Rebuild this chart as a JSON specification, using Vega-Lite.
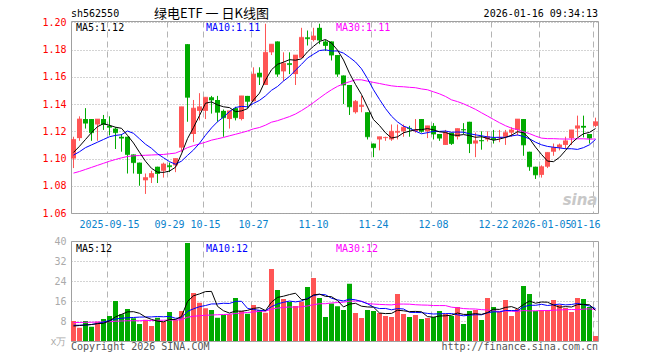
{
  "$schema": "https://vega.github.io/schema/vega-lite/v6.json",
  "background": "white",
  "padding": {"left": 41, "top": 7, "right": 10, "bottom": 4},
  "bounds": "flush",
  "spacing": 28,
  "config": {
    "view": {"stroke": "#a0a0a0", "strokeWidth": 1},
    "font": "DejaVu Sans Mono",
    "axis": {"labelFont": "DejaVu Sans Mono", "labelFontSize": 10, "ticks": false, "domain": false, "title": null},
    "text": {"font": "DejaVu Sans Mono", "fontSize": 10}
  },
  "data": {"values": [
    {"d":"2025-09-05","o":1.100,"h":1.116,"l":1.093,"c":1.114,"v":8.0,"m5":1.1045,"m10":1.1025,"m30":1.0893,"vm5":6.0,"vm10":6.3,"vm30":7.4},
    {"d":"2025-09-08","o":1.115,"h":1.131,"l":1.113,"c":1.129,"v":5.3,"m5":1.109,"m10":1.105,"m30":1.0905,"vm5":6.2,"vm10":6.3,"vm30":7.4},
    {"d":"2025-09-09","o":1.129,"h":1.137,"l":1.122,"c":1.126,"v":8.0,"m5":1.114,"m10":1.108,"m30":1.092,"vm5":6.4,"vm10":6.4,"vm30":7.5},
    {"d":"2025-09-10","o":1.129,"h":1.129,"l":1.113,"c":1.119,"v":5.7,"m5":1.119,"m10":1.110,"m30":1.0935,"vm5":6.6,"vm10":6.6,"vm30":7.5},
    {"d":"2025-09-11","o":1.125,"h":1.129,"l":1.113,"c":1.129,"v":7.7,"m5":1.1234,"m10":1.112,"m30":1.095,"vm5":6.94,"vm10":7.0,"vm30":7.6},
    {"d":"2025-09-12","o":1.129,"h":1.132,"l":1.121,"c":1.125,"v":8.8,"m5":1.1256,"m10":1.114,"m30":1.0965,"vm5":7.1,"vm10":7.6,"vm30":7.6},
    {"d":"2025-09-15","o":1.124,"h":1.131,"l":1.117,"c":1.123,"v":10.0,"m5":1.1244,"m10":1.116,"m30":1.098,"vm5":8.04,"vm10":8.2,"vm30":7.7},
    {"d":"2025-09-16","o":1.122,"h":1.123,"l":1.107,"c":1.119,"v":16.0,"m5":1.123,"m10":1.117,"m30":1.0993,"vm5":9.64,"vm10":8.8,"vm30":7.9},
    {"d":"2025-09-17","o":1.116,"h":1.118,"l":1.105,"c":1.115,"v":10.7,"m5":1.1222,"m10":1.1175,"m30":1.1005,"vm5":10.64,"vm10":9.1,"vm30":8.0},
    {"d":"2025-09-18","o":1.116,"h":1.116,"l":1.089,"c":1.103,"v":12.8,"m5":1.117,"m10":1.1202,"m30":1.1015,"vm5":11.66,"vm10":9.3,"vm30":8.1},
    {"d":"2025-09-19","o":1.103,"h":1.103,"l":1.089,"c":1.097,"v":9.1,"m5":1.1114,"m10":1.1185,"m30":1.102,"vm5":11.72,"vm10":9.41,"vm30":8.1},
    {"d":"2025-09-22","o":1.097,"h":1.097,"l":1.080,"c":1.089,"v":6.8,"m5":1.1046,"m10":1.1145,"m30":1.1022,"vm5":11.08,"vm10":9.56,"vm30":8.1},
    {"d":"2025-09-23","o":1.084,"h":1.089,"l":1.074,"c":1.086,"v":8.5,"m5":1.098,"m10":1.1105,"m30":1.1024,"vm5":9.58,"vm10":9.61,"vm30":8.2},
    {"d":"2025-09-24","o":1.086,"h":1.091,"l":1.082,"c":1.089,"v":6.0,"m5":1.0928,"m10":1.1075,"m30":1.1026,"vm5":8.64,"vm10":9.64,"vm30":8.2},
    {"d":"2025-09-25","o":1.094,"h":1.094,"l":1.082,"c":1.089,"v":9.3,"m5":1.09,"m10":1.1035,"m30":1.1028,"vm5":7.94,"vm10":9.8,"vm30":8.3},
    {"d":"2025-09-26","o":1.091,"h":1.097,"l":1.086,"c":1.096,"v":7.7,"m5":1.0898,"m10":1.1006,"m30":1.103,"vm5":7.66,"vm10":9.69,"vm30":8.3},
    {"d":"2025-09-29","o":1.095,"h":1.097,"l":1.090,"c":1.094,"v":11.6,"m5":1.0908,"m10":1.0977,"m30":1.1035,"vm5":8.62,"vm10":9.85,"vm30":8.4},
    {"d":"2025-09-30","o":1.095,"h":1.100,"l":1.090,"c":1.100,"v":8.5,"m5":1.0936,"m10":1.0958,"m30":1.104,"vm5":8.62,"vm10":9.1,"vm30":8.4},
    {"d":"2025-10-09","o":1.108,"h":1.138,"l":1.105,"c":1.138,"v":12.0,"m5":1.1034,"m10":1.0981,"m30":1.1058,"vm5":9.82,"vm10":9.23,"vm30":8.5},
    {"d":"2025-10-10","o":1.184,"h":1.184,"l":1.127,"c":1.145,"v":39.2,"m5":1.1146,"m10":1.1023,"m30":1.108,"vm5":15.8,"vm10":11.87,"vm30":9.5},
    {"d":"2025-10-13","o":1.118,"h":1.143,"l":1.112,"c":1.137,"v":19.2,"m5":1.1228,"m10":1.1063,"m30":1.1095,"vm5":18.1,"vm10":12.88,"vm30":9.9},
    {"d":"2025-10-14","o":1.135,"h":1.148,"l":1.128,"c":1.138,"v":15.3,"m5":1.1316,"m10":1.1112,"m30":1.1107,"vm5":18.84,"vm10":13.73,"vm30":10.1},
    {"d":"2025-10-15","o":1.135,"h":1.145,"l":1.129,"c":1.145,"v":13.1,"m5":1.1406,"m10":1.1171,"m30":1.112,"vm5":19.76,"vm10":14.19,"vm30":10.3},
    {"d":"2025-10-16","o":1.145,"h":1.146,"l":1.133,"c":1.143,"v":12.4,"m5":1.1416,"m10":1.1225,"m30":1.1135,"vm5":19.84,"vm10":14.83,"vm30":10.4},
    {"d":"2025-10-17","o":1.143,"h":1.146,"l":1.127,"c":1.134,"v":9.3,"m5":1.1394,"m10":1.127,"m30":1.1145,"vm5":13.86,"vm10":14.83,"vm30":10.5},
    {"d":"2025-10-20","o":1.135,"h":1.136,"l":1.116,"c":1.130,"v":10.4,"m5":1.138,"m10":1.1304,"m30":1.1155,"vm5":12.1,"vm10":15.1,"vm30":10.6},
    {"d":"2025-10-21","o":1.129,"h":1.135,"l":1.122,"c":1.135,"v":10.7,"m5":1.1374,"m10":1.1345,"m30":1.1167,"vm5":11.18,"vm10":15.01,"vm30":10.7},
    {"d":"2025-10-22","o":1.137,"h":1.138,"l":1.128,"c":1.130,"v":17.2,"m5":1.1344,"m10":1.1375,"m30":1.1178,"vm5":12.0,"vm10":15.88,"vm30":11.0},
    {"d":"2025-10-23","o":1.129,"h":1.146,"l":1.128,"c":1.146,"v":12.0,"m5":1.135,"m10":1.1383,"m30":1.119,"vm5":11.92,"vm10":15.88,"vm30":11.2},
    {"d":"2025-10-24","o":1.146,"h":1.146,"l":1.137,"c":1.142,"v":10.9,"m5":1.1366,"m10":1.138,"m30":1.1202,"vm5":12.24,"vm10":13.05,"vm30":11.41},
    {"d":"2025-10-27","o":1.142,"h":1.167,"l":1.142,"c":1.162,"v":14.4,"m5":1.143,"m10":1.1405,"m30":1.1218,"vm5":13.04,"vm10":12.57,"vm30":11.62},
    {"d":"2025-10-28","o":1.163,"h":1.167,"l":1.154,"c":1.160,"v":12.3,"m5":1.148,"m10":1.1427,"m30":1.1228,"vm5":13.36,"vm10":12.27,"vm30":11.85},
    {"d":"2025-10-29","o":1.154,"h":1.199,"l":1.154,"c":1.178,"v":11.3,"m5":1.1576,"m10":1.146,"m30":1.1245,"vm5":12.18,"vm10":12.09,"vm30":11.96},
    {"d":"2025-10-30","o":1.178,"h":1.184,"l":1.176,"c":1.184,"v":28.8,"m5":1.1652,"m10":1.1501,"m30":1.1267,"vm5":15.54,"vm10":13.73,"vm30":12.73},
    {"d":"2025-10-31","o":1.186,"h":1.186,"l":1.160,"c":1.162,"v":20.4,"m5":1.1692,"m10":1.1529,"m30":1.1278,"vm5":17.44,"vm10":14.84,"vm30":13.16},
    {"d":"2025-11-03","o":1.164,"h":1.178,"l":1.157,"c":1.170,"v":16.8,"m5":1.1708,"m10":1.1569,"m30":1.1293,"vm5":17.92,"vm10":15.48,"vm30":13.42},
    {"d":"2025-11-04","o":1.170,"h":1.178,"l":1.162,"c":1.169,"v":15.6,"m5":1.1726,"m10":1.1603,"m30":1.1308,"vm5":18.58,"vm10":15.97,"vm30":13.61},
    {"d":"2025-11-05","o":1.162,"h":1.176,"l":1.154,"c":1.176,"v":14.0,"m5":1.1722,"m10":1.1649,"m30":1.1327,"vm5":19.12,"vm10":15.65,"vm30":13.54},
    {"d":"2025-11-06","o":1.174,"h":1.196,"l":1.174,"c":1.189,"v":15.7,"m5":1.1732,"m10":1.1692,"m30":1.1352,"vm5":16.5,"vm10":16.02,"vm30":13.71},
    {"d":"2025-11-07","o":1.189,"h":1.194,"l":1.183,"c":1.188,"v":21.6,"m5":1.1784,"m10":1.1738,"m30":1.138,"vm5":16.74,"vm10":17.09,"vm30":14.0},
    {"d":"2025-11-10","o":1.187,"h":1.196,"l":1.186,"c":1.190,"v":25.2,"m5":1.1824,"m10":1.1766,"m30":1.1411,"vm5":18.42,"vm10":18.17,"vm30":14.54},
    {"d":"2025-11-11","o":1.196,"h":1.199,"l":1.184,"c":1.187,"v":17.2,"m5":1.186,"m10":1.1793,"m30":1.1444,"vm5":18.74,"vm10":18.66,"vm30":14.89},
    {"d":"2025-11-12","o":1.186,"h":1.187,"l":1.179,"c":1.183,"v":9.6,"m5":1.1874,"m10":1.1798,"m30":1.1476,"vm5":17.86,"vm10":18.49,"vm30":14.92},
    {"d":"2025-11-13","o":1.186,"h":1.186,"l":1.172,"c":1.176,"v":15.0,"m5":1.1848,"m10":1.179,"m30":1.1505,"vm5":17.72,"vm10":17.11,"vm30":15.22},
    {"d":"2025-11-14","o":1.176,"h":1.176,"l":1.160,"c":1.162,"v":13.9,"m5":1.1796,"m10":1.179,"m30":1.153,"vm5":16.18,"vm10":16.46,"vm30":15.38},
    {"d":"2025-11-17","o":1.161,"h":1.161,"l":1.140,"c":1.154,"v":12.4,"m5":1.1724,"m10":1.1774,"m30":1.1549,"vm5":13.62,"vm10":16.02,"vm30":15.53},
    {"d":"2025-11-18","o":1.154,"h":1.154,"l":1.132,"c":1.138,"v":22.9,"m5":1.1626,"m10":1.1743,"m30":1.1564,"vm5":14.76,"vm10":16.75,"vm30":15.91},
    {"d":"2025-11-19","o":1.134,"h":1.143,"l":1.133,"c":1.142,"v":11.2,"m5":1.1544,"m10":1.1709,"m30":1.1578,"vm5":15.08,"vm10":16.47,"vm30":16.0},
    {"d":"2025-11-20","o":1.138,"h":1.146,"l":1.134,"c":1.139,"v":9.2,"m5":1.147,"m10":1.1659,"m30":1.1578,"vm5":13.92,"vm10":15.82,"vm30":15.91},
    {"d":"2025-11-21","o":1.134,"h":1.134,"l":1.114,"c":1.116,"v":12.4,"m5":1.1378,"m10":1.1587,"m30":1.1568,"vm5":13.62,"vm10":14.9,"vm30":15.01},
    {"d":"2025-11-24","o":1.111,"h":1.111,"l":1.101,"c":1.108,"v":12.0,"m5":1.1286,"m10":1.1505,"m30":1.1559,"vm5":13.54,"vm10":13.58,"vm30":14.77},
    {"d":"2025-11-25","o":1.114,"h":1.116,"l":1.106,"c":1.116,"v":11.2,"m5":1.1242,"m10":1.1434,"m30":1.1551,"vm5":11.2,"vm10":12.98,"vm30":14.64},
    {"d":"2025-11-26","o":1.115,"h":1.116,"l":1.113,"c":1.1155,"v":10.0,"m5":1.1189,"m10":1.1367,"m30":1.1542,"vm5":10.96,"vm10":13.02,"vm30":14.53},
    {"d":"2025-11-27","o":1.114,"h":1.125,"l":1.113,"c":1.120,"v":9.6,"m5":1.1151,"m10":1.1311,"m30":1.1534,"vm5":11.04,"vm10":12.48,"vm30":14.44},
    {"d":"2025-11-28","o":1.119,"h":1.125,"l":1.114,"c":1.120,"v":18.8,"m5":1.1159,"m10":1.1269,"m30":1.1529,"vm5":12.32,"vm10":12.97,"vm30":14.76},
    {"d":"2025-12-01","o":1.120,"h":1.125,"l":1.116,"c":1.123,"v":10.8,"m5":1.1189,"m10":1.1238,"m30":1.1527,"vm5":12.08,"vm10":12.81,"vm30":14.77},
    {"d":"2025-12-02","o":1.1225,"h":1.124,"l":1.116,"c":1.122,"v":9.6,"m5":1.1201,"m10":1.1222,"m30":1.1523,"vm5":11.76,"vm10":11.48,"vm30":14.73},
    {"d":"2025-12-03","o":1.120,"h":1.129,"l":1.119,"c":1.121,"v":10.4,"m5":1.1212,"m10":1.1201,"m30":1.152,"vm5":11.84,"vm10":11.4,"vm30":14.51},
    {"d":"2025-12-04","o":1.129,"h":1.129,"l":1.119,"c":1.120,"v":8.8,"m5":1.1212,"m10":1.1182,"m30":1.1511,"vm5":11.68,"vm10":11.36,"vm30":14.4},
    {"d":"2025-12-05","o":1.120,"h":1.124,"l":1.115,"c":1.124,"v":9.2,"m5":1.122,"m10":1.119,"m30":1.1505,"vm5":9.76,"vm10":11.04,"vm30":14.34},
    {"d":"2025-12-08","o":1.124,"h":1.126,"l":1.114,"c":1.118,"v":9.6,"m5":1.121,"m10":1.12,"m30":1.149,"vm5":9.52,"vm10":10.8,"vm30":14.18},
    {"d":"2025-12-09","o":1.118,"h":1.118,"l":1.113,"c":1.115,"v":12.0,"m5":1.1196,"m10":1.1199,"m30":1.1475,"vm5":10.0,"vm10":10.88,"vm30":14.17},
    {"d":"2025-12-10","o":1.110,"h":1.121,"l":1.110,"c":1.119,"v":10.8,"m5":1.1192,"m10":1.1202,"m30":1.1456,"vm5":10.08,"vm10":10.96,"vm30":14.16},
    {"d":"2025-12-11","o":1.119,"h":1.119,"l":1.110,"c":1.111,"v":10.0,"m5":1.1174,"m10":1.1193,"m30":1.1431,"vm5":10.32,"vm10":11.0,"vm30":13.53},
    {"d":"2025-12-12","o":1.116,"h":1.122,"l":1.114,"c":1.122,"v":13.6,"m5":1.117,"m10":1.1195,"m30":1.1418,"vm5":11.2,"vm10":10.48,"vm30":13.3},
    {"d":"2025-12-15","o":1.1215,"h":1.126,"l":1.118,"c":1.121,"v":6.8,"m5":1.1176,"m10":1.1193,"m30":1.1402,"vm5":10.64,"vm10":10.08,"vm30":12.97},
    {"d":"2025-12-16","o":1.127,"h":1.127,"l":1.104,"c":1.111,"v":12.0,"m5":1.1168,"m10":1.1182,"m30":1.1382,"vm5":10.64,"vm10":10.32,"vm30":12.85},
    {"d":"2025-12-17","o":1.111,"h":1.119,"l":1.101,"c":1.113,"v":12.4,"m5":1.1156,"m10":1.1174,"m30":1.1361,"vm5":10.96,"vm10":10.52,"vm30":12.8},
    {"d":"2025-12-18","o":1.1135,"h":1.120,"l":1.1065,"c":1.113,"v":8.4,"m5":1.116,"m10":1.1167,"m30":1.1336,"vm5":10.64,"vm10":10.48,"vm30":12.55},
    {"d":"2025-12-19","o":1.114,"h":1.120,"l":1.1125,"c":1.116,"v":17.2,"m5":1.1148,"m10":1.1159,"m30":1.1312,"vm5":11.36,"vm10":11.28,"vm30":12.41},
    {"d":"2025-12-22","o":1.115,"h":1.121,"l":1.111,"c":1.114,"v":13.6,"m5":1.1134,"m10":1.1155,"m30":1.1287,"vm5":12.72,"vm10":11.68,"vm30":12.02},
    {"d":"2025-12-23","o":1.115,"h":1.121,"l":1.112,"c":1.1155,"v":11.6,"m5":1.1143,"m10":1.1156,"m30":1.1263,"vm5":12.64,"vm10":11.64,"vm30":11.83},
    {"d":"2025-12-24","o":1.116,"h":1.121,"l":1.110,"c":1.119,"v":16.4,"m5":1.1155,"m10":1.1156,"m30":1.1241,"vm5":13.44,"vm10":12.2,"vm30":12.06},
    {"d":"2025-12-25","o":1.119,"h":1.123,"l":1.116,"c":1.121,"v":10.0,"m5":1.1171,"m10":1.1166,"m30":1.1223,"vm5":13.76,"vm10":12.2,"vm30":11.89},
    {"d":"2025-12-26","o":1.121,"h":1.129,"l":1.117,"c":1.129,"v":12.8,"m5":1.1197,"m10":1.1173,"m30":1.1212,"vm5":12.88,"vm10":12.12,"vm30":11.86},
    {"d":"2025-12-29","o":1.129,"h":1.129,"l":1.102,"c":1.110,"v":22.0,"m5":1.1189,"m10":1.1162,"m30":1.1197,"vm5":14.56,"vm10":13.64,"vm30":12.18},
    {"d":"2025-12-30","o":1.105,"h":1.105,"l":1.091,"c":1.094,"v":18.8,"m5":1.1146,"m10":1.1145,"m30":1.1183,"vm5":16.0,"vm10":14.32,"vm30":12.04},
    {"d":"2025-12-31","o":1.094,"h":1.094,"l":1.085,"c":1.088,"v":12.0,"m5":1.1084,"m10":1.112,"m30":1.1165,"vm5":15.12,"vm10":14.28,"vm30":12.07},
    {"d":"2026-01-05","o":1.088,"h":1.095,"l":1.086,"c":1.094,"v":12.4,"m5":1.103,"m10":1.1101,"m30":1.115,"vm5":15.6,"vm10":14.68,"vm30":12.17},
    {"d":"2026-01-06","o":1.094,"h":1.1045,"l":1.093,"c":1.1045,"v":12.4,"m5":1.0981,"m10":1.1089,"m30":1.1146,"vm5":15.52,"vm10":14.2,"vm30":12.17},
    {"d":"2026-01-07","o":1.105,"h":1.111,"l":1.102,"c":1.108,"v":16.4,"m5":1.0977,"m10":1.1083,"m30":1.1146,"vm5":14.4,"vm10":14.48,"vm30":12.32},
    {"d":"2026-01-08","o":1.108,"h":1.111,"l":1.106,"c":1.110,"v":14.4,"m5":1.1009,"m10":1.1078,"m30":1.1144,"vm5":13.52,"vm10":14.76,"vm30":12.43},
    {"d":"2026-01-09","o":1.110,"h":1.116,"l":1.107,"c":1.113,"v":13.2,"m5":1.1059,"m10":1.1072,"m30":1.1143,"vm5":13.76,"vm10":14.44,"vm30":12.53},
    {"d":"2026-01-12","o":1.115,"h":1.121,"l":1.110,"c":1.121,"v":11.6,"m5":1.1113,"m10":1.1072,"m30":1.1143,"vm5":13.6,"vm10":14.6,"vm30":12.6},
    {"d":"2026-01-13","o":1.122,"h":1.1315,"l":1.116,"c":1.124,"v":17.2,"m5":1.1152,"m10":1.1067,"m30":1.1145,"vm5":14.56,"vm10":15.04,"vm30":12.55},
    {"d":"2026-01-14","o":1.124,"h":1.1315,"l":1.1155,"c":1.123,"v":16.8,"m5":1.1182,"m10":1.108,"m30":1.1145,"vm5":14.64,"vm10":14.52,"vm30":12.75},
    {"d":"2026-01-15","o":1.118,"h":1.118,"l":1.111,"c":1.115,"v":13.6,"m5":1.1192,"m10":1.1101,"m30":1.1142,"vm5":14.48,"vm10":14.0,"vm30":12.88},
    {"d":"2026-01-16","o":1.124,"h":1.130,"l":1.123,"c":1.127,"v":2.0,"m5":1.122,"m10":1.114,"m30":1.1144,"vm5":12.24,"vm10":13.0,"vm30":12.6}
  ]},
  "vconcat": [
    {
      "width": 527,
      "height": 192,
      "layer": [
        {
          "mark": {"type": "rule", "strokeWidth": 1},
          "encoding": {
            "x": {"field": "d", "type": "ordinal", "title": null,
              "scale": {"paddingInner": 0.1667, "paddingOuter": 0},
              "axis": {
                "values": ["2025-09-15","2025-09-29","2025-10-15","2025-10-27","2025-11-10","2025-11-24","2025-12-08","2025-12-22","2026-01-05","2026-01-16"],
                "labelExpr": "(datum.value == '2025-09-15' || datum.value == '2026-01-05') ? datum.value : substring(datum.value, 5)",
                "labelAngle": 0, "labelColor": "#0a82cc", "labelPadding": 6, "labelBaseline": "top",
                "labelOverlap": false, "bandPosition": 0,
                "labelAlign": {"condition": {"test": "datum.value === '2026-01-16'", "value": "right"}, "value": "center"},
                "labelOffset": {"condition": {"test": "datum.value === '2026-01-16'", "value": 5}, "value": 0},
                "grid": true, "gridColor": "#b4b4b4", "gridDash": [6, 4], "gridWidth": 1
              }},
            "y": {"field": "l", "type": "quantitative", "title": null,
              "scale": {"domain": [1.06, 1.201], "nice": false, "zero": false},
              "axis": {"values": [1.06, 1.08, 1.10, 1.12, 1.14, 1.16, 1.18, 1.20], "tickCount": 20, "format": ".2f", "labelOverlap": false,
                "labelColor": "#ff0000", "labelPadding": 5, "grid": true, "gridColor": "#a8a8a8", "gridDash": [1, 2]}},
            "y2": {"field": "h"},
            "color": {"condition": {"test": "datum.c >= datum.o", "value": "#ff5555"}, "value": "#00aa00"}
          }
        },
        {
          "mark": {"type": "bar"},
          "encoding": {
            "x": {"field": "d", "type": "ordinal"},
            "y": {"field": "o", "type": "quantitative"},
            "y2": {"field": "c"},
            "color": {"condition": {"test": "datum.c >= datum.o", "value": "#ff5555"}, "value": "#00aa00"}
          }
        },
        {
          "mark": {"type": "tick", "thickness": 1, "size": 5},
          "encoding": {
            "x": {"field": "d", "type": "ordinal"},
            "y": {"field": "c", "type": "quantitative"},
            "color": {"condition": {"test": "datum.c >= datum.o", "value": "#ff5555"}, "value": "#00aa00"}
          }
        },
        {
          "mark": {"type": "line", "color": "#ff00ff", "strokeWidth": 1},
          "encoding": {"x": {"field": "d", "type": "ordinal"}, "y": {"field": "m30", "type": "quantitative"}}
        },
        {
          "mark": {"type": "line", "color": "#0000ff", "strokeWidth": 1},
          "encoding": {"x": {"field": "d", "type": "ordinal"}, "y": {"field": "m10", "type": "quantitative"}}
        },
        {
          "mark": {"type": "line", "color": "#000000", "strokeWidth": 1},
          "encoding": {"x": {"field": "d", "type": "ordinal"}, "y": {"field": "m5", "type": "quantitative"}}
        },
        {
          "transform": [{"filter": "datum.d == '2025-09-05'"}],
          "mark": {"type": "text", "text": "sh562550", "align": "left", "baseline": "alphabetic", "dx": -2.5, "dy": -4, "color": "#000000"},
          "encoding": {"x": {"field": "d", "type": "ordinal"}, "y": {"datum": 1.201, "type": "quantitative"}}
        },
        {
          "transform": [{"filter": "datum.d == '2025-10-16'"}],
          "mark": {"type": "text", "text": "绿电ETF 一 日K线图", "align": "center", "baseline": "alphabetic", "dy": -3, "font": "Noto Sans CJK SC", "fontSize": 13, "color": "#000000"},
          "encoding": {"x": {"field": "d", "type": "ordinal"}, "y": {"datum": 1.201, "type": "quantitative"}}
        },
        {
          "transform": [{"filter": "datum.d == '2026-01-16'"}],
          "mark": {"type": "text", "text": "2026-01-16 09:34:13", "align": "right", "baseline": "alphabetic", "dx": 2.5, "dy": -4, "color": "#000000"},
          "encoding": {"x": {"field": "d", "type": "ordinal"}, "y": {"datum": 1.201, "type": "quantitative"}}
        },
        {
          "transform": [{"filter": "datum.d == '2025-09-05'"}],
          "mark": {"type": "text", "text": "MA5:1.12", "align": "left", "baseline": "top", "dx": 2.5, "dy": 2, "color": "#000000"},
          "encoding": {"x": {"field": "d", "type": "ordinal"}, "y": {"datum": 1.201, "type": "quantitative"}}
        },
        {
          "transform": [{"filter": "datum.d == '2025-10-15'"}],
          "mark": {"type": "text", "text": "MA10:1.11", "align": "left", "baseline": "top", "dx": 0.5, "dy": 2, "color": "#0000ff"},
          "encoding": {"x": {"field": "d", "type": "ordinal"}, "y": {"datum": 1.201, "type": "quantitative"}}
        },
        {
          "transform": [{"filter": "datum.d == '2025-11-14'"}],
          "mark": {"type": "text", "text": "MA30:1.11", "align": "left", "baseline": "top", "dx": -1.5, "dy": 2, "color": "#ff00ff"},
          "encoding": {"x": {"field": "d", "type": "ordinal"}, "y": {"datum": 1.201, "type": "quantitative"}}
        },
        {
          "transform": [{"filter": "datum.d == '2026-01-16'"}],
          "mark": {"type": "text", "text": "sina", "align": "right", "baseline": "alphabetic", "dx": 2, "dy": -8, "font": "DejaVu Sans", "fontSize": 15, "fontStyle": "italic", "fontWeight": "bold", "color": "#c8c8c8"},
          "encoding": {"x": {"field": "d", "type": "ordinal"}, "y": {"datum": 1.06, "type": "quantitative"}}
        }
      ]
    },
    {
      "width": 527,
      "height": 100,
      "layer": [
        {
          "mark": {"type": "bar"},
          "encoding": {
            "x": {"field": "d", "type": "ordinal", "title": null,
              "scale": {"paddingInner": 0.1667, "paddingOuter": 0},
              "axis": {
                "values": ["2025-09-15","2025-09-29","2025-10-15","2025-10-27","2025-11-10","2025-11-24","2025-12-08","2025-12-22","2026-01-05","2026-01-16"],
                "labels": false, "bandPosition": 0,
                "grid": true, "gridColor": "#b4b4b4", "gridDash": [6, 4], "gridWidth": 1
              }},
            "y": {"field": "v", "type": "quantitative", "title": null,
              "scale": {"domain": [0, 40], "nice": false},
              "axis": {"values": [0, 8, 16, 24, 32, 40], "tickCount": 20, "labelExpr": "datum.value == 0 ? 'x万' : datum.label", "labelOverlap": false,
                "labelColor": "#aaaaaa", "labelPadding": 5, "grid": true, "gridColor": "#a8a8a8", "gridDash": [1, 2]}},
            "color": {"condition": {"test": "datum.c >= datum.o", "value": "#ff5555"}, "value": "#00aa00"}
          }
        },
        {
          "mark": {"type": "line", "color": "#ff00ff", "strokeWidth": 1},
          "encoding": {"x": {"field": "d", "type": "ordinal"}, "y": {"field": "vm30", "type": "quantitative"}}
        },
        {
          "mark": {"type": "line", "color": "#0000ff", "strokeWidth": 1},
          "encoding": {"x": {"field": "d", "type": "ordinal"}, "y": {"field": "vm10", "type": "quantitative"}}
        },
        {
          "mark": {"type": "line", "color": "#000000", "strokeWidth": 1},
          "encoding": {"x": {"field": "d", "type": "ordinal"}, "y": {"field": "vm5", "type": "quantitative"}}
        },
        {
          "transform": [{"filter": "datum.d == '2025-09-05'"}],
          "mark": {"type": "text", "text": "MA5:12", "align": "left", "baseline": "top", "dx": 2.5, "dy": 3, "color": "#000000"},
          "encoding": {"x": {"field": "d", "type": "ordinal"}, "y": {"datum": 40, "type": "quantitative"}}
        },
        {
          "transform": [{"filter": "datum.d == '2025-10-15'"}],
          "mark": {"type": "text", "text": "MA10:12", "align": "left", "baseline": "top", "dx": 0.5, "dy": 3, "color": "#0000ff"},
          "encoding": {"x": {"field": "d", "type": "ordinal"}, "y": {"datum": 40, "type": "quantitative"}}
        },
        {
          "transform": [{"filter": "datum.d == '2025-11-14'"}],
          "mark": {"type": "text", "text": "MA30:12", "align": "left", "baseline": "top", "dx": -1.5, "dy": 3, "color": "#ff00ff"},
          "encoding": {"x": {"field": "d", "type": "ordinal"}, "y": {"datum": 40, "type": "quantitative"}}
        },
        {
          "transform": [{"filter": "datum.d == '2025-09-05'"}],
          "mark": {"type": "text", "text": "Copyright 2026 SINA.COM", "align": "left", "baseline": "alphabetic", "dx": -2.5, "dy": 9, "color": "#555555"},
          "encoding": {"x": {"field": "d", "type": "ordinal"}, "y": {"datum": 0, "type": "quantitative"}}
        },
        {
          "transform": [{"filter": "datum.d == '2026-01-16'"}],
          "mark": {"type": "text", "text": "http://finance.sina.com.cn", "align": "right", "baseline": "alphabetic", "dx": 2.5, "dy": 9, "color": "#555555"},
          "encoding": {"x": {"field": "d", "type": "ordinal"}, "y": {"datum": 0, "type": "quantitative"}}
        }
      ]
    }
  ]
}
